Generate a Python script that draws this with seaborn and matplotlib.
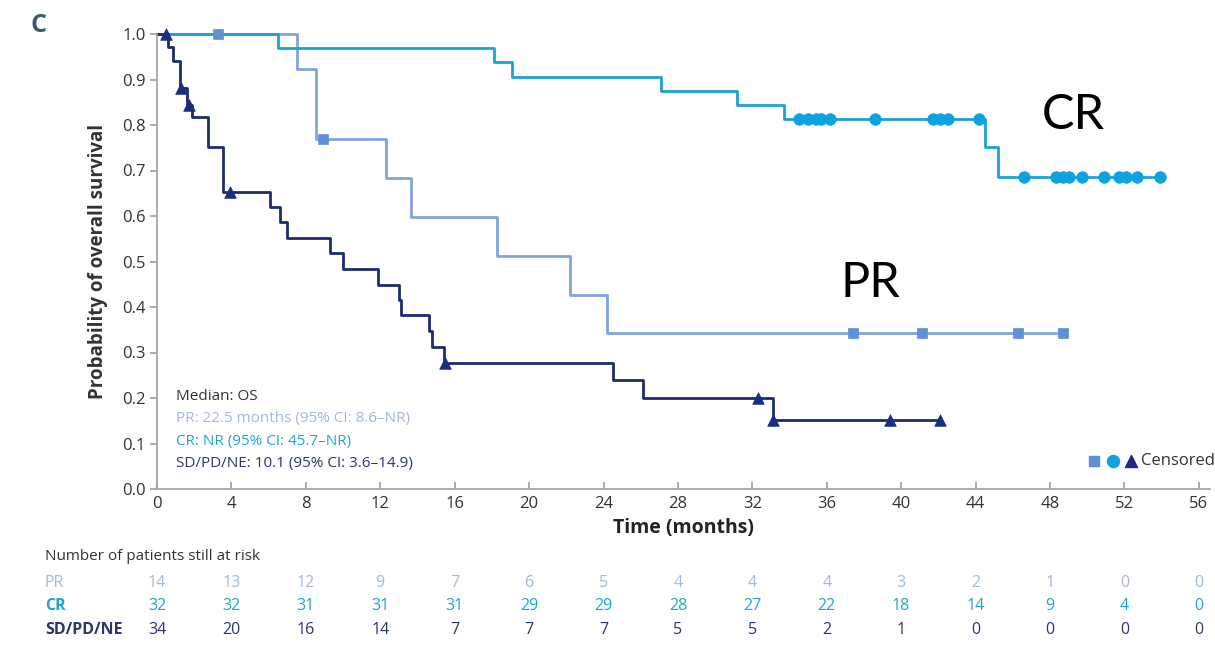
import numpy as np
import pandas as pd
import matplotlib
matplotlib.use("Agg")
import matplotlib.pyplot as plt
import seaborn as sns

# step curves (time in months, survival probability)
pr_times = [0, 7.5, 8.55, 12.3, 13.65, 18.3, 22.2, 24.2, 48.7]
pr_surv = [1.0, 0.923, 0.769, 0.684, 0.598, 0.513, 0.427, 0.342, 0.342]

cr_times = [0, 6.5, 18.1, 19.1, 27.1, 31.2, 33.7, 44.5, 45.2, 53.9]
cr_surv = [1.0, 0.969, 0.938, 0.906, 0.875, 0.844, 0.813, 0.752, 0.686, 0.686]

sd_times = [0, 0.6, 0.87, 1.24, 1.6, 1.9, 2.75, 3.55, 6.1, 6.6, 7.0, 9.3, 10.0,
            11.9, 13.0, 13.1, 14.6, 14.8, 15.4, 24.5, 26.1, 33.1, 42.1]
sd_surv = [1.0, 0.971, 0.941, 0.882, 0.844, 0.818, 0.752, 0.653, 0.620, 0.587,
           0.552, 0.519, 0.484, 0.448, 0.415, 0.382, 0.347, 0.312, 0.277, 0.240,
           0.200, 0.152, 0.152]

# censored marks
pr_cens_t = [3.3, 8.9, 37.4, 41.1, 46.3, 48.7]
pr_cens_s = [1.0, 0.769, 0.342, 0.342, 0.342, 0.342]
cr_cens_t = [34.5, 35.0, 35.4, 35.7, 36.2, 38.6, 41.7, 42.1, 42.5, 44.2,
             46.6, 48.3, 48.7, 49.0, 49.7, 50.9, 51.7, 52.1, 52.7, 53.9]
cr_cens_s = [0.813] * 10 + [0.686] * 10
sd_cens_t = [0.5, 1.3, 1.7, 3.9, 15.5, 32.3, 33.1, 39.4, 42.1]
sd_cens_s = [1.0, 0.882, 0.844, 0.653, 0.277, 0.200, 0.152, 0.152, 0.152]

# number at risk table
risk_times = [0, 4, 8, 12, 16, 20, 24, 28, 32, 36, 40, 44, 48, 52, 56]
pr_risk = [14, 13, 12, 9, 7, 6, 5, 4, 4, 4, 3, 2, 1, 0, 0]
cr_risk = [32, 32, 31, 31, 31, 29, 29, 28, 27, 22, 18, 14, 9, 4, 0]
sd_risk = [34, 20, 16, 14, 7, 7, 7, 5, 5, 2, 1, 0, 0, 0, 0]

y_ticks = [0.0, 0.1, 0.2, 0.3, 0.4, 0.5, 0.6, 0.7, 0.8, 0.9, 1.0]

PR_COL = "#7ea6dc"
PR_MK = "#5f90d4"
CR_COL = "#18a3d6"
CR_MK = "#0fa2e0"
SD_COL = "#1e2c6b"
SD_MK = "#1b2d82"

sns.set_theme(style="white")
plt.rcParams['font.family'] = ['Open Sans', 'DejaVu Sans']

curves = pd.concat([
    pd.DataFrame({'t': pr_times, 's': pr_surv, 'grp': 'PR'}),
    pd.DataFrame({'t': cr_times, 's': cr_surv, 'grp': 'CR'}),
    pd.DataFrame({'t': sd_times, 's': sd_surv, 'grp': 'SD/PD/NE'}),
])
palette = {'PR': PR_COL, 'CR': CR_COL, 'SD/PD/NE': SD_COL}

fig = plt.figure(figsize=(12.15, 6.45), dpi=100)
ax = fig.add_axes([157 / 1215, 1 - 489 / 645, 1053 / 1215, 455 / 645])

for grp in ['PR', 'CR', 'SD/PD/NE']:
    sub = curves[curves['grp'] == grp]
    sns.lineplot(data=sub, x='t', y='s', ax=ax, color=palette[grp],
                 drawstyle='steps-post', estimator=None, sort=False,
                 linewidth=2.0, clip_on=False, legend=False)

sns.scatterplot(x=pr_cens_t, y=pr_cens_s, ax=ax, marker='s', s=60,
                color=PR_MK, edgecolor=PR_MK, linewidth=0.5, clip_on=False, zorder=5)
sns.scatterplot(x=cr_cens_t, y=cr_cens_s, ax=ax, marker='o', s=70,
                color=CR_MK, edgecolor=CR_MK, linewidth=0.5, clip_on=False, zorder=5)
sns.scatterplot(x=sd_cens_t, y=sd_cens_s, ax=ax, marker='^', s=70,
                color=SD_MK, edgecolor=SD_MK, linewidth=0.5, clip_on=False, zorder=5)

ax.set_xlim(0, 56.6)
ax.set_ylim(0, 1.0)
ax.set_xticks(risk_times)
ax.set_yticks(y_ticks)
ax.set_yticklabels([f"{v:.1f}" for v in y_ticks])
for side in ['top', 'right']:
    ax.spines[side].set_visible(False)
for side in ['left', 'bottom']:
    ax.spines[side].set_color('#a0a0a0')
    ax.spines[side].set_linewidth(1.2)
ax.tick_params(axis='x', direction='in', length=5, color='#a0a0a0',
               labelsize=12, labelcolor='#333333', pad=5)
ax.tick_params(axis='y', direction='out', length=5, color='#a0a0a0',
               labelsize=12, labelcolor='#333333', pad=3)
ax.tick_params(left=True, bottom=True)
ax.set_xlabel('Time (months)', fontsize=14, fontweight='bold', color='#222222', labelpad=4)
ax.set_ylabel('Probability of overall survival', fontsize=13.5, fontweight='bold',
              color='#333333', labelpad=10)

# median annotation
med_lines = [("Median: OS", '#333333'),
             ("PR: 22.5 months (95% CI: 8.6\u2013NR)", '#a3b8dc'),
             ("CR: NR (95% CI: 45.7\u2013NR)", '#1fa6cc'),
             ("SD/PD/NE: 10.1 (95% CI: 3.6\u201314.9)", '#2b356f')]
for i, (txt, col) in enumerate(med_lines):
    fig.text(176 / 1215, 1 - (396 + i * 22.5) / 645, txt, fontsize=11,
             color=col, va='center', ha='left')

# big group labels
fig.text(1073 / 1215, 1 - 115 / 645, 'CR', fontsize=35, ha='center', va='center',
         color='black', family=['Lato', 'DejaVu Sans'])
fig.text(870 / 1215, 1 - 283 / 645, 'PR', fontsize=35, ha='center', va='center',
         color='black', family=['Lato', 'DejaVu Sans'])

# censored legend
leg_y = (489 - 461) / 455
ax.scatter([(1094 - 157) / 1053], [leg_y], marker='s', s=60, color=PR_MK,
           transform=ax.transAxes, clip_on=False)
ax.scatter([(1113 - 157) / 1053], [leg_y], marker='o', s=75, color=CR_MK,
           transform=ax.transAxes, clip_on=False)
ax.scatter([(1131 - 157) / 1053], [leg_y], marker='^', s=75, color=SD_MK,
           transform=ax.transAxes, clip_on=False)
ax.text((1141 - 157) / 1053, leg_y, 'Censored', transform=ax.transAxes,
        fontsize=12, color='#333333', va='center', ha='left')

# panel label
fig.text(30 / 1215, 1 - 25 / 645, 'C', fontsize=18, fontweight='bold',
         color='#3b5a70', va='center', ha='left')

# number at risk table
fig.text(45 / 1215, 1 - 557 / 645, 'Number of patients still at risk',
         fontsize=11, color='#333333', va='center')
rows = [('PR', pr_risk, '#a3b8dc', 'normal', 583),
        ('CR', cr_risk, '#1fa6cc', 'bold', 606),
        ('SD/PD/NE', sd_risk, '#2b356f', 'bold', 630)]
xtrans = ax.get_xaxis_transform()
for lab, vals, col, wt, py in rows:
    fig.text(45 / 1215, 1 - py / 645, lab, fontsize=11.5, color=col,
             fontweight=wt, va='center')
    ya = (489 - py) / 455
    for t, v in zip(risk_times, vals):
        ax.text(t, ya, str(v), transform=xtrans, fontsize=11.5, color=col,
                ha='center', va='center', clip_on=False)

fig.savefig('out.png', dpi=100)
